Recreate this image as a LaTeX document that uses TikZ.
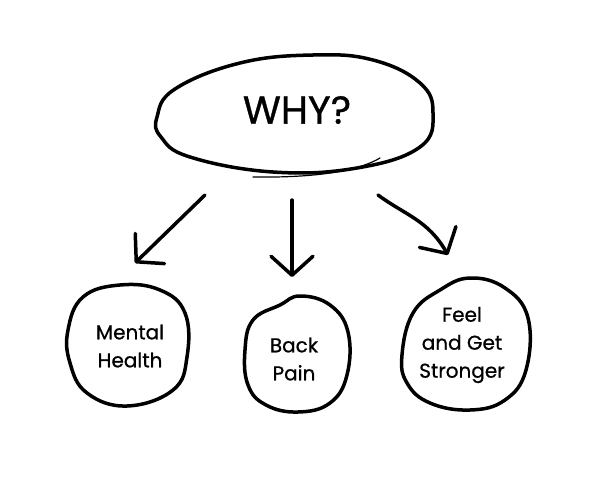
\documentclass[tikz,border=0pt]{standalone}
\usepackage{fontspec}
\setmainfont{Poppins}[BoldFont=Poppins, BoldFeatures={FakeBold=0.8}]
\usetikzlibrary{arrows.meta}

\begin{document}
\begin{tikzpicture}[x=1pt, y=-1pt, line cap=round, line join=round,
    blob/.style={line width=3.5pt},
    label/.style={align=center, font=\bfseries\fontsize{20}{28}\selectfont},
    arrow/.style={line width=3.5pt, -{Straight Barb[length=19pt, width=42pt, round]}}]
    \useasboundingbox (0,0) rectangle (600,503);
    % question at the top
    \draw [blob] plot [smooth cycle, tension=0.7] coordinates {(157,117) (175,89) (240,63) (313,55) (373,60) (420,83) (433,113) (420,147) (357,168) (273,172) (190,157) (161,137)};
    \draw [line width=1.2pt] (253,177) .. controls (320,178) and (360,170) .. (380,158);
    \node (why) at (297,110) {\bfseries\fontsize{39}{42}\selectfont WHY?};
    % the three reasons
    \draw [blob] plot [smooth cycle, tension=0.7] coordinates {(68,330) (83,297) (120,285) (160,290) (185,313) (187,357) (173,390) (127,406) (87,393) (70,363)};
    \draw [blob] plot [smooth cycle, tension=0.7] coordinates {(245,350) (253,320) (280,305) (300,296) (330,305) (348,332) (347,375) (330,403) (298,412) (266,405) (248,385)};
    \draw [blob] plot [smooth cycle, tension=0.7] coordinates {(402,355) (413,313) (440,290) (470,278) (505,288) (528,318) (526,370) (505,400) (470,410) (430,403) (407,383)};
    \node [label] (mental) at (130,346) {Mental\\Health};
    \node [label] (back) at (294,359) {Back\\Pain};
    \node [label] (feel) at (462,345) {Feel\\and Get\\Stronger};
    % arrows
    \coordinate (leftstart) at (205,195);
    \coordinate (leftend) at (135,263);
    \coordinate (midstart) at (292,200);
    \coordinate (midend) at (292,277);
    \coordinate (rightstart) at (378,195);
    \coordinate (rightend) at (448,255);
    \draw [arrow] (leftstart) -- (leftend);
    \draw [arrow] (midstart) -- (midend);
    \draw [arrow] (rightstart) .. controls (405,215) and (428,220) .. (rightend);
\end{tikzpicture}
\end{document}
